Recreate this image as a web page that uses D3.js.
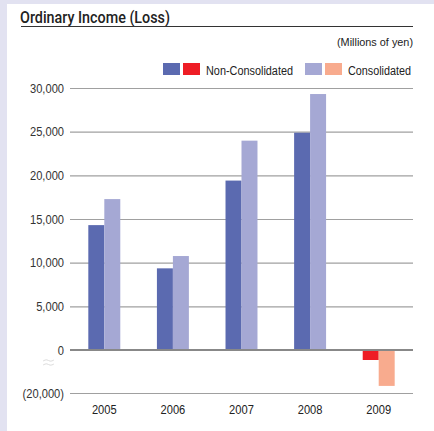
<!DOCTYPE html>
<html>
<head>
<meta charset="utf-8">
<script src="https://cdn.jsdelivr.net/npm/d3@7"></script>
<style>
  html, body { margin: 0; padding: 0; background: #e2e2f1; }
  svg { display: block; }
</style>
</head>
<body>
<svg id="chart" width="434" height="431"></svg>
<script>
// Ordinary income (loss), millions of yen
const years = ["2005", "2006", "2007", "2008", "2009"];
const nonConsolidated = [14300, 9350, 19400, 24880, -4650];
const consolidated = [17280, 10760, 23970, 29310, -16700];
const tickValues = [30000, 25000, 20000, 15000, 10000, 5000, 0, -20000];
const tickLabels = ["30,000", "25,000", "20,000", "15,000", "10,000", "5,000", "0", "(20,000)"];

const colors = {
  nonPos: "#5b6ab0", nonNeg: "#ee1d25",
  conPos: "#a5a8d4", conNeg: "#f8ab8e"
};
const font = "'Liberation Sans', Arial, sans-serif";
const titleFont = "Roboto, 'Liberation Sans', sans-serif";

// narrow the glyphs horizontally for a condensed look
function condense(sel, factor) {
  sel.each(function () {
    const w = this.getComputedTextLength();
    d3.select(this).attr("textLength", w * factor).attr("lengthAdjust", "spacingAndGlyphs");
  });
}

const svg = d3.select("#chart");

// white panel
svg.append("rect").attr("x", 7).attr("y", 4).attr("width", 427).attr("height", 427).attr("fill", "#fff");

// title
svg.append("text").attr("x", 20).attr("y", 23)
  .attr("font-family", titleFont).attr("font-weight", 500).attr("font-size", 16).attr("fill", "#222")
  .text("Ordinary Income (Loss)")
  .attr("textLength", 150).attr("lengthAdjust", "spacingAndGlyphs");
svg.append("line").attr("x1", 21).attr("x2", 413).attr("y1", 26.5).attr("y2", 26.5)
  .attr("stroke", "#333").attr("stroke-width", 1);

svg.append("text").attr("x", 413).attr("y", 46).attr("text-anchor", "end")
  .attr("font-family", font).attr("font-size", 11).attr("fill", "#222")
  .text("(Millions of yen)")
  .attr("textLength", 76).attr("lengthAdjust", "spacingAndGlyphs");

// legend
const legend = [
  { x: 163, c: colors.nonPos }, { x: 183, c: colors.nonNeg },
  { x: 305, c: colors.conPos }, { x: 325, c: colors.conNeg }
];
svg.selectAll("rect.lg").data(legend).join("rect").attr("class", "lg")
  .attr("x", d => d.x).attr("y", 63).attr("width", 17).attr("height", 12).attr("fill", d => d.c);
svg.append("text").attr("x", 206).attr("y", 75).attr("font-family", font).attr("font-size", 12.5)
  .attr("fill", "#222").text("Non-Consolidated")
  .attr("textLength", 87).attr("lengthAdjust", "spacingAndGlyphs");
svg.append("text").attr("x", 348).attr("y", 75).attr("font-family", font).attr("font-size", 12.5)
  .attr("fill", "#222").text("Consolidated")
  .attr("textLength", 63).attr("lengthAdjust", "spacingAndGlyphs");

// scales: the axis is broken below zero, so the negative segment is compressed
const y = d3.scaleLinear().domain([-20000, 0, 30000]).range([393, 350, 88]);
const x = d3.scaleBand().domain(years).range([70, 413]).paddingInner(0.534).paddingOuter(0.267);
const xs = d3.scaleBand().domain(["non", "con"]).range([0, x.bandwidth()]);

// grid
const yAxis = d3.axisLeft(y).tickValues(tickValues).tickSize(-343)
  .tickFormat((d, i) => tickLabels[i]).tickPadding(6);
const gy = svg.append("g").attr("transform", "translate(70,0)").call(yAxis);
gy.select(".domain").remove();
gy.selectAll(".tick line").attr("stroke", "#a0a0a0").attr("stroke-width", 1.2);
gy.selectAll(".tick text").attr("font-family", font).attr("font-size", 12.5).attr("fill", "#333")
  .call(condense, 0.89);

// bars
const rows = years.map((yr, i) => ({ yr, non: nonConsolidated[i], con: consolidated[i] }));
const g = svg.append("g");
rows.forEach(r => {
  [["non", r.non], ["con", r.con]].forEach(([k, v]) => {
    g.append("rect")
      .attr("x", x(r.yr) + xs(k))
      .attr("width", xs.bandwidth())
      .attr("y", Math.min(y(v), y(0)))
      .attr("height", Math.abs(y(v) - y(0)))
      .attr("fill", v >= 0 ? (k === "non" ? colors.nonPos : colors.conPos)
                            : (k === "non" ? colors.nonNeg : colors.conNeg));
  });
});

// zero line on top
svg.append("line").attr("x1", 70).attr("x2", 413).attr("y1", y(0)).attr("y2", y(0))
  .attr("stroke", "#888").attr("stroke-width", 2);

// axis break mark
const wave = d3.line().curve(d3.curveBasis);
[0, 4].forEach(dy => {
  svg.append("path")
    .attr("d", wave([[43, 361 + dy], [47, 359 + dy], [50, 362 + dy], [54, 360 + dy]]))
    .attr("fill", "none").attr("stroke", "#dcdcdc").attr("stroke-width", 1);
});

// year labels
svg.selectAll("text.yr").data(years).join("text").attr("class", "yr")
  .attr("x", d => x(d) + x.bandwidth() / 2).attr("y", 414)
  .attr("text-anchor", "middle").attr("font-family", font).attr("font-size", 12.5)
  .attr("fill", "#222").text(d => d)
  .call(condense, 0.89);
</script>
</body>
</html>
